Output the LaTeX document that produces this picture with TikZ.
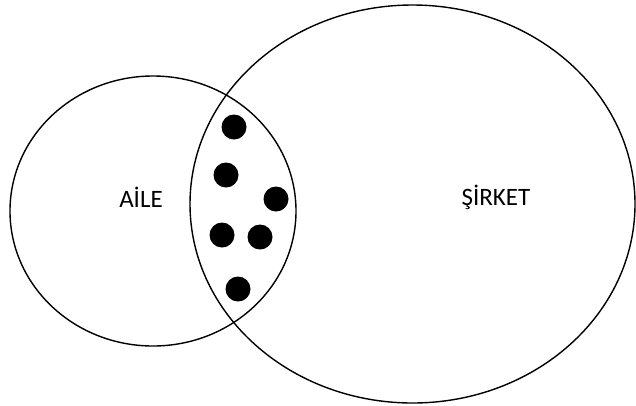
\documentclass[tikz,border=0pt]{standalone}
\usepackage{fontspec}
\setmainfont{Carlito}
\usetikzlibrary{positioning}

\tikzset{
  memberdot/.style={circle,fill=black,inner sep=0pt,minimum size=25pt},
  setlabel/.style={font=\fontsize{25}{30}\selectfont}
}

\begin{document}
\begin{tikzpicture}[x=1pt,y=-1pt,line width=1.4pt]

\useasboundingbox (0,0) rectangle (636,405);

% Family
\draw (153,211) ellipse [x radius=143, y radius=135];

% Company
\draw (412.5,204) ellipse [x radius=222.5, y radius=199];

% Labels
\node[setlabel] (aile) at (141,197) {AİLE};
\node[setlabel] (sirket) at (496,197) {ŞİRKET};

% Members in both sets
\node[memberdot] (m1) at (234,127) {};
\node[memberdot] (m2) at (226,175) {};
\node[memberdot] (m3) at (276,199) {};
\node[memberdot] (m4) at (222,235) {};
\node[memberdot] (m5) at (260,237) {};
\node[memberdot] (m6) at (238,289) {};

\end{tikzpicture}
\end{document}
